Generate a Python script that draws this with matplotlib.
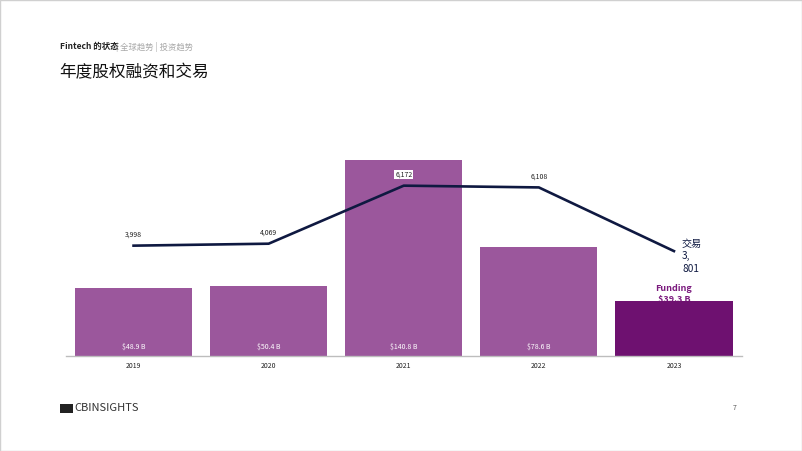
import matplotlib
matplotlib.use("Agg")
import matplotlib.pyplot as plt
from matplotlib.patches import Rectangle

plt.rcParams['font.family'] = ['Noto Sans CJK SC', 'DejaVu Sans']

years = ["2019", "2020", "2021", "2022", "2023"]
funding = [48.9, 50.4, 140.8, 78.6, 39.3]
funding_labels = ["$48.9 B", "$50.4 B", "$140.8 B", "$78.6 B", "$39.3 B"]
deals = [3998, 4069, 6172, 6108, 3801]
deal_labels = ["3,998", "4,069", "6,172", "6,108", "3,801"]

W, H = 802, 451
fig = plt.figure(figsize=(W / 100, H / 100), dpi=100)
fig.patch.set_facecolor("white")

# page border
fig.add_artist(Rectangle((0, 0), 1, 1, transform=fig.transFigure, fill=False,
                         edgecolor="#d0d0d0", linewidth=1.0))

def fx(px):
    return px / W

def fy(py):
    return 1 - py / H

BAR_PX = 1.39     # pixels per $B
DEAL_PX = 0.0276  # pixels per deal
ax = fig.add_axes([fx(66), fy(356), fx(741.5) - fx(66), (356 - 150) / H])
ax2 = ax.twinx()

bar_color = "#9b579c"
last_color = "#6e1170"
colors = [bar_color] * (len(years) - 1) + [last_color]
x = list(range(len(years)))
ax.bar(x, funding, width=0.867, color=colors, zorder=2)
ax.set_xlim(-0.5, len(years) - 0.5)
ax.set_ylim(0, 206 / BAR_PX)
ax2.set_ylim(0, 206 / DEAL_PX)

for i, lab in enumerate(funding_labels[:-1]):
    ax.text(i, 3.5, lab, ha="center", va="bottom", color="white", fontsize=5, zorder=3)

# Funding label for last bar (value partially hidden behind the bar)
ax.text(4, funding[-1] + 13 / BAR_PX, "Funding", ha="center", va="center",
        color="#7b1a7e", fontsize=6.5, fontweight="bold", zorder=3)
ax.text(4, funding[-1] + 1.2, funding_labels[-1], ha="center", va="center",
        color="#7b1a7e", fontsize=6.5, fontweight="bold", zorder=1)

ax2.plot(x, deals, color="#0f1941", linewidth=1.9, zorder=4)
for i in range(len(years) - 1):
    kw = {}
    if i == 2:
        kw["bbox"] = dict(boxstyle="square,pad=0.1", facecolor="white", edgecolor="none")
    ax2.text(i, deals[i] + 250, deal_labels[i], ha="center", va="bottom", fontsize=5,
             color="#222222", zorder=5, **kw)
ax2.text(4.06, deals[-1] - 190, "交易\n3,\n801", ha="left", va="center", fontsize=7.3,
         color="#0f1941", linespacing=1.3, zorder=5)

ax.set_xticks(x)
ax.set_xticklabels(years, fontsize=5, color="#222222")
ax.tick_params(axis="x", length=0, pad=4)
ax.set_yticks([])
ax2.set_yticks([])
for a in (ax, ax2):
    for s in ("top", "right", "left"):
        a.spines[s].set_visible(False)
ax.spines["bottom"].set_color("#bdbdbd")
ax.spines["bottom"].set_linewidth(1.0)
ax2.spines["bottom"].set_visible(False)
ax.set_zorder(1)
ax2.set_zorder(2)
ax2.patch.set_visible(False)

# header
fig.text(fx(60), fy(47), "Fintech 的状态", fontsize=6.1, fontweight="bold",
         color="#222222", va="center", ha="left")
fig.text(fx(116.5), fy(47), "| 全球趋势 | 投资趋势", fontsize=6, color="#a8a8a8",
         va="center", ha="left")
fig.text(fx(59), fy(73), "年度股权融资和交易", fontsize=12, color="#111111",
         va="center", ha="left")

# footer logo
fig.add_artist(Rectangle((fx(60), fy(413)), fx(13), 9 / H, transform=fig.transFigure,
                         facecolor="#222222", edgecolor="none"))
fig.text(fx(74), fy(408), "CBINSIGHTS", fontsize=8, color="#333333", va="center", ha="left")
fig.text(fx(735), fy(408), "7", fontsize=5, color="#555555", va="center", ha="center")

fig.savefig("out.png", dpi=100, facecolor="white")
